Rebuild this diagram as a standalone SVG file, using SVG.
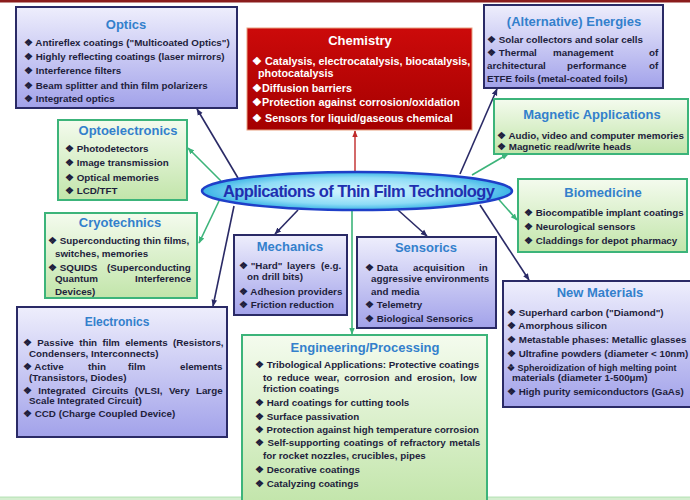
<svg xmlns="http://www.w3.org/2000/svg" width="690" height="500" viewBox="0 0 690 500">
<defs>
<linearGradient id="gBlue" x1="0" y1="0" x2="0" y2="1"><stop offset="0" stop-color="#eeeefc"/><stop offset="1" stop-color="#a2a2ea"/></linearGradient>
<linearGradient id="gGreen" x1="0" y1="0" x2="0" y2="1"><stop offset="0" stop-color="#f4fbee"/><stop offset="1" stop-color="#c2e5aa"/></linearGradient>
<linearGradient id="gRed" x1="0" y1="0" x2="0" y2="1"><stop offset="0" stop-color="#cc0a0a"/><stop offset="1" stop-color="#a40000"/></linearGradient>
<radialGradient id="gEll" cx="0.5" cy="0.5" r="0.5"><stop offset="0" stop-color="#d8f6ff"/><stop offset="0.7" stop-color="#8edcf6"/><stop offset="1" stop-color="#3cb4e6"/></radialGradient>
<marker id="aN" viewBox="0 0 10 10" refX="9" refY="5" markerWidth="7" markerHeight="7" markerUnits="userSpaceOnUse" orient="auto"><path d="M0,1 L10,5 L0,9 z" fill="#2a2a66"/></marker>
<marker id="aG" viewBox="0 0 10 10" refX="9" refY="5" markerWidth="7" markerHeight="7" markerUnits="userSpaceOnUse" orient="auto"><path d="M0,1 L10,5 L0,9 z" fill="#3cb47a"/></marker>
<marker id="aR" viewBox="0 0 10 10" refX="9" refY="5" markerWidth="7" markerHeight="7" markerUnits="userSpaceOnUse" orient="auto"><path d="M0,1 L10,5 L0,9 z" fill="#c02a2a"/></marker>
</defs>
<style>
.bb{fill:url(#gBlue);stroke:#2a2a66;stroke-width:2}
.gb{fill:url(#gGreen);stroke:#3cb47a;stroke-width:2}
.rb{fill:url(#gRed);stroke:#e8a080;stroke-width:1}
.t{font-family:"Liberation Sans",Arial,sans-serif;font-weight:bold;font-size:13px;fill:#3380cc;text-anchor:middle}
.tw{font-family:"Liberation Sans",Arial,sans-serif;font-weight:bold;font-size:13px;fill:#ffffff;text-anchor:middle}
.b{font-family:"Liberation Sans",Arial,sans-serif;font-weight:bold;font-size:9.8px;fill:#1e1e3c}
.bw{font-family:"Liberation Sans",Arial,sans-serif;font-weight:bold;font-size:10.8px;fill:#ffffff}
.cn{stroke:#2a2a66;stroke-width:1.6;fill:none}
.cg{stroke:#3cb47a;stroke-width:1.6;fill:none}
.cr{stroke:#c02a2a;stroke-width:1.4;fill:none}
</style>
<rect x="0" y="0" width="690" height="500" fill="#ffffff"/>
<rect x="0" y="0" width="690" height="2.5" fill="#8a1c1c"/>
<rect x="0" y="497" width="690" height="3" fill="#d4eed0"/>
<line x1="0" y1="497" x2="690" y2="497" stroke="#a8dca8" stroke-width="0.8"/>

<g id="connectors">
<line class="cr" x1="355" y1="172" x2="355" y2="131" marker-end="url(#aR)"/>
<line class="cn" x1="238" y1="178" x2="197" y2="109" marker-end="url(#aN)"/>
<line class="cg" x1="221" y1="181" x2="188" y2="148" marker-end="url(#aG)"/>
<line class="cg" x1="219" y1="201" x2="199" y2="243" marker-end="url(#aG)"/>
<line class="cn" x1="234" y1="206" x2="213" y2="306" marker-end="url(#aN)"/>
<line class="cn" x1="298" y1="210" x2="275" y2="234" marker-end="url(#aN)"/>
<line class="cg" x1="352" y1="210" x2="352" y2="334" marker-end="url(#aG)"/>
<line class="cn" x1="398" y1="210" x2="427" y2="236" marker-end="url(#aN)"/>
<line class="cn" x1="480" y1="205" x2="529" y2="280" marker-end="url(#aN)"/>
<line class="cg" x1="494" y1="194" x2="517" y2="220" marker-end="url(#aG)"/>
<line class="cg" x1="472" y1="175" x2="508" y2="154" marker-end="url(#aG)"/>
<line class="cn" x1="460" y1="174" x2="497" y2="89" marker-end="url(#aN)"/>
</g>

<g id="optics">
<rect class="bb" x="16" y="7" width="221" height="101"/>
<text class="t" x="126" y="29">Optics</text>
<text class="b" x="24" y="46">❖ Antireflex coatings ("Multicoated Optics")</text>
<text class="b" x="24" y="60">❖ Highly reflecting coatings (laser mirrors)</text>
<text class="b" x="24" y="74">❖ Interference filters</text>
<text class="b" x="24" y="89">❖ Beam splitter and thin film polarizers</text>
<text class="b" x="24" y="102">❖ Integrated optics</text>
</g>

<g id="chemistry">
<rect class="rb" x="247" y="28" width="225" height="102"/>
<text class="tw" x="360" y="45">Chemistry</text>
<text class="bw" x="252" y="65">❖ Catalysis, electrocatalysis, biocatalysis,</text>
<text class="bw" x="258" y="77">photocatalysis</text>
<text class="bw" x="252" y="92">❖Diffusion barriers</text>
<text class="bw" x="252" y="106">❖Protection against corrosion/oxidation</text>
<text class="bw" x="252" y="122">❖ Sensors for liquid/gaseous chemical</text>
</g>

<g id="energies">
<rect class="bb" x="484" y="5" width="179" height="83"/>
<text class="t" x="574" y="26">(Alternative) Energies</text>
<text class="b" x="487" y="43">❖ Solar collectors and solar cells</text>
<text class="b" y="56"><tspan x="487">❖ Thermal</tspan><tspan x="553">management</tspan><tspan x="649">of</tspan></text>
<text class="b" y="69"><tspan x="487">architectural</tspan><tspan x="567">performance</tspan><tspan x="649">of</tspan></text>
<text class="b" x="487" y="82">ETFE foils (metal-coated foils)</text>
</g>

<g id="magnetic">
<rect class="gb" x="494" y="99" width="194" height="55"/>
<text class="t" x="592" y="119">Magnetic Applications</text>
<text class="b" x="497" y="139" textLength="187" lengthAdjust="spacingAndGlyphs">❖ Audio, video and computer memories</text>
<text class="b" x="497" y="150">❖ Magnetic read/write heads</text>
</g>

<g id="optoelectronics">
<rect class="gb" x="58" y="120" width="129" height="80"/>
<text class="t" x="128" y="135">Optoelectronics</text>
<text class="b" x="65" y="152">❖ Photodetectors</text>
<text class="b" x="65" y="166">❖ Image transmission</text>
<text class="b" x="65" y="181">❖ Optical memories</text>
<text class="b" x="65" y="194">❖ LCD/TFT</text>
</g>

<g id="cryotechnics">
<rect class="gb" x="45" y="213" width="152" height="85"/>
<text class="t" x="120" y="227">Cryotechnics</text>
<text class="b" x="48" y="244">❖ Superconducting thin films,</text>
<text class="b" x="55" y="257">switches, memories</text>
<text class="b" y="271"><tspan x="48">❖ SQUIDS</tspan><tspan x="107">(Superconducting</tspan></text>
<text class="b" y="282"><tspan x="55">Quantum</tspan><tspan x="135">Interference</tspan></text>
<text class="b" x="55" y="295">Devices)</text>
</g>

<g id="mechanics">
<rect class="bb" x="234" y="235" width="113" height="80"/>
<text class="t" x="290" y="251">Mechanics</text>
<text class="b" y="269"><tspan x="239">❖ "Hard"</tspan><tspan x="287">layers</tspan><tspan x="321">(e.g.</tspan></text>
<text class="b" x="247" y="280">on drill bits)</text>
<text class="b" x="239" y="295">❖ Adhesion providers</text>
<text class="b" x="239" y="308">❖ Friction reduction</text>
</g>

<g id="sensorics">
<rect class="bb" x="357" y="237" width="139" height="91"/>
<text class="t" x="426" y="252">Sensorics</text>
<text class="b" y="271"><tspan x="365">❖ Data</tspan><tspan x="413">acquisition</tspan><tspan x="479">in</tspan></text>
<text class="b" x="371" y="282">aggressive environments</text>
<text class="b" x="371" y="295">and media</text>
<text class="b" x="365" y="308">❖ Telemetry</text>
<text class="b" x="365" y="322">❖ Biological Sensorics</text>
</g>

<g id="biomedicine">
<rect class="gb" x="518" y="179" width="169" height="73"/>
<text class="t" x="603" y="197">Biomedicine</text>
<text class="b" x="524" y="216">❖ Biocompatible implant coatings</text>
<text class="b" x="524" y="230">❖ Neurological sensors</text>
<text class="b" x="524" y="244">❖ Claddings for depot pharmacy</text>
</g>

<g id="new-materials">
<rect class="bb" x="503" y="281" width="195" height="126"/>
<text class="t" x="600" y="297">New Materials</text>
<text class="b" x="507" y="316">❖ Superhard carbon ("Diamond")</text>
<text class="b" x="507" y="329">❖ Amorphous silicon</text>
<text class="b" x="507" y="343">❖ Metastable phases: Metallic glasses</text>
<text class="b" x="507" y="357">❖ Ultrafine powders (diameter &lt; 10nm)</text>
<text class="b" x="507" y="371" style="font-size:9px">❖ Spheroidization of high melting point</text>
<text class="b" x="512" y="381">materials (diameter 1-500μm)</text>
<text class="b" x="507" y="395">❖ High purity semiconductors (GaAs)</text>
</g>

<g id="electronics">
<rect class="bb" x="17" y="307" width="210" height="130"/>
<text class="t" x="117" y="326" style="font-size:12px">Electronics</text>
<text class="b" x="23" y="346" word-spacing="2.6">❖ Passive thin film elements (Resistors,</text>
<text class="b" x="29" y="357">Condensers, Interconnects)</text>
<text class="b" y="370"><tspan x="23">❖ Active</tspan><tspan x="88">thin</tspan><tspan x="128">film</tspan><tspan x="180">elements</tspan></text>
<text class="b" x="29" y="381">(Transistors, Diodes)</text>
<text class="b" x="23" y="394" word-spacing="3.6">❖ Integrated Circuits (VLSI, Very Large</text>
<text class="b" x="29" y="404">Scale Integrated Circuit)</text>
<text class="b" x="23" y="417">❖ CCD (Charge Coupled Device)</text>
</g>

<g id="engineering">
<rect class="gb" x="242" y="335" width="245" height="170"/>
<text class="t" x="365" y="352">Engineering/Processing</text>
<text class="b" x="255" y="368">❖ Tribological Applications: Protective coatings</text>
<text class="b" x="263" y="381" word-spacing="2.4">to reduce wear, corrosion and erosion, low</text>
<text class="b" x="263" y="392">friction coatings</text>
<text class="b" x="255" y="406">❖ Hard coatings for cutting tools</text>
<text class="b" x="255" y="420">❖ Surface passivation</text>
<text class="b" x="255" y="433" textLength="224" lengthAdjust="spacingAndGlyphs">❖ Protection against high temperature corrosion</text>
<text class="b" x="255" y="446" word-spacing="0.8">❖ Self-supporting coatings of refractory metals</text>
<text class="b" x="263" y="459">for rocket nozzles, crucibles, pipes</text>
<text class="b" x="255" y="473">❖ Decorative coatings</text>
<text class="b" x="255" y="487">❖ Catalyzing coatings</text>
</g>

<g id="center">
<ellipse cx="357" cy="191" rx="155" ry="19" fill="url(#gEll)" stroke="#1f3fc8" stroke-width="2.5"/>
<text x="223" y="197" textLength="272" font-family="Liberation Sans, Arial, sans-serif" font-weight="bold" font-size="16.5" fill="#1f2fb0">Applications of Thin Film Technology</text>
</g>
</svg>
